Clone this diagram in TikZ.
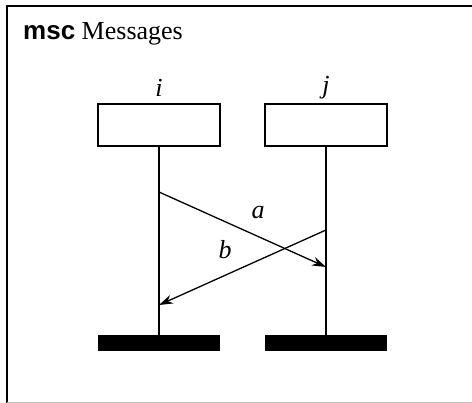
\documentclass[tikz,border=0pt]{standalone}
\usepackage{fontspec}
\setmainfont{Liberation Serif}
\setsansfont{Liberation Sans}
\usetikzlibrary{arrows.meta}
\begin{document}
\begin{tikzpicture}[x=1pt,y=-1pt,
  frameline/.style={line width=2pt},
  inst/.style={draw,line width=1.4pt,minimum width=122pt,minimum height=42pt,inner sep=0pt},
  endbar/.style={fill=black,minimum width=122pt,minimum height=16pt,inner sep=0pt},
  life/.style={line width=1.3pt},
  msg/.style={line width=1.3pt,-{Stealth[length=14pt,width=9pt,inset=4.5pt]}},
  lbl/.style={font=\fontsize{26pt}{30pt}\selectfont\itshape,inner sep=0pt}]
\useasboundingbox (0,0) rectangle (472,403);
\draw[frameline] (7,403) -- (7,6) -- (472,6);
\draw[gray!50,line width=1pt] (7,402.5) -- (472,402.5);
\node[anchor=base west,inner sep=0pt,font=\fontsize{26pt}{30pt}\selectfont] (title) at (23,40) {\textsf{\bfseries msc} Messages};
\node[inst] (bi) at (159,125) {};
\node[inst] (bj) at (326,125) {};
\node[lbl] (li) at (159,88) {i};
\node[lbl] (lj) at (326,88) {j};
\node[endbar] (ei) at (159,343) {};
\node[endbar] (ej) at (326,343) {};
\draw[life] (bi.south) -- (ei.north);
\draw[life] (bj.south) -- (ej.north);
\coordinate (as) at (159,192);
\coordinate (ae) at (326,267);
\coordinate (bs) at (326,230);
\coordinate (be) at (159,305);
\draw[msg] (as) -- (ae);
\draw[msg] (bs) -- (be);
\node[lbl] (la) at (258,213) {a};
\node[lbl] (lb) at (225,250) {b};
\end{tikzpicture}
\end{document}
